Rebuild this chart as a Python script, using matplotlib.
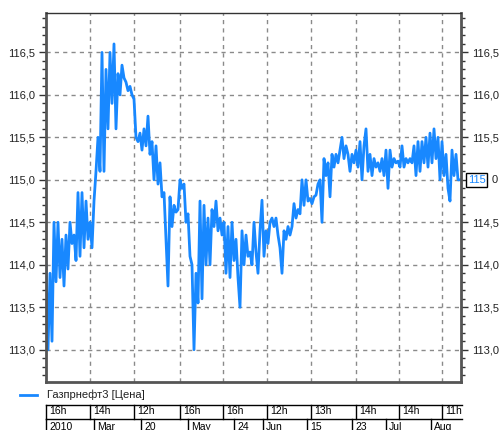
import matplotlib
matplotlib.use("Agg")
import matplotlib.pyplot as plt
from matplotlib.lines import Line2D
from matplotlib.ticker import MultipleLocator, FuncFormatter

# price trace, one sample every ~2 px of the reference
price = [
    114.00, 113.00, 113.90, 113.10, 114.50, 113.80, 114.50, 113.85, 114.30, 113.75,
    114.35, 113.95, 114.50, 114.25, 114.35, 114.05, 114.85, 114.10, 114.85, 114.20,
    114.75, 114.30, 114.50, 114.20, 114.75, 115.10, 115.50, 115.10, 116.50, 115.10,
    116.30, 115.60, 116.50, 115.90, 116.60, 115.60, 116.25, 116.00, 116.35, 116.20,
    116.15, 116.05, 116.10, 116.00, 115.95, 115.50, 115.45, 115.55, 115.35, 115.60,
    115.40, 115.75, 115.30, 115.45, 115.00, 115.40, 114.95, 115.20, 114.80, 114.85,
    114.30, 113.75, 114.80, 114.45, 114.70, 114.62, 114.65, 115.00, 114.90, 114.95,
    114.50, 114.60, 114.10, 114.00, 113.00, 113.90, 113.55, 114.75, 113.60, 114.70,
    114.00, 114.55, 114.00, 114.65, 114.45, 114.75, 114.40, 114.55, 114.35, 114.50,
    113.90, 114.45, 113.85, 114.50, 114.05, 114.30, 113.85, 113.50, 114.40, 114.00,
    114.35, 114.10, 114.15, 114.00, 114.50,
    114.15, 113.90, 114.40, 114.76, 114.10, 114.40, 114.25, 114.50, 114.55, 114.45,
    114.55, 114.35, 114.20, 113.90, 114.40, 114.30, 114.45, 114.35, 114.45, 114.72,
    114.55, 114.65, 114.60, 115.00, 114.70, 115.00, 114.75, 114.78, 114.72, 114.80,
    114.82, 114.95, 115.00, 114.50, 115.25, 115.05, 115.20, 114.80, 115.30, 115.15,
    115.30, 115.20, 115.35, 115.50, 115.25, 115.40, 115.30, 115.10, 115.30, 115.20,
    115.35, 115.15, 115.45, 115.00, 115.40, 115.60, 115.10, 115.30, 115.05, 115.25,
    115.15, 115.20, 115.10, 115.25, 115.05, 115.35, 114.90, 115.35, 115.15, 115.25,
    115.20, 115.22, 115.15, 115.40, 115.15, 115.25, 115.20, 115.25, 115.20, 115.40,
    115.05, 115.45, 115.10, 115.45, 115.20, 115.50, 115.15, 115.55, 115.20, 115.60,
    115.25, 115.50, 115.00, 115.45, 115.05, 115.30, 114.90, 114.75, 115.35, 115.05,
    115.30, 115.00, 115.00,
]
last_price = "115"

# time scale (sample index of each cell border) and labels
hour_edges = [0, 22, 44, 67, 88.5, 110.5, 132.5, 155, 176.5, 198]
hour_labels = ["16h", "14h", "12h", "16h", "16h", "12h", "13h", "14h", "14h", "11h"]
date_edges = [0, 24, 47.5, 71, 94, 108.5, 130.5, 153, 170, 192.5]
date_labels = ["2010", "Mar", "20", "May", "24", "Jun", "15", "23", "Jul", "Aug"]

legend_label = "Газпрнефт3 [Цена]"

W, H = 499, 430
blue = "#1888ff"
plt.rcParams["font.family"] = ["Liberation Sans", "DejaVu Sans"]
plt.rcParams["font.size"] = 8

fig = plt.figure(figsize=(W / 100, H / 100), dpi=100)
ax = fig.add_axes([46 / W, (H - 382) / H, (461 - 46) / W, (382 - 12.5) / H])

x = list(range(len(price)))
ax.plot(x, price, color=blue, lw=2.0)
ax.set_xlim(0, 207.5)
ax.set_ylim(112.62, 116.97)

ax.yaxis.set_major_locator(MultipleLocator(0.5))
ax.yaxis.set_minor_locator(MultipleLocator(0.1))
ax.yaxis.set_major_formatter(FuncFormatter(lambda v, p: f"{v:.1f}".replace(".", ",")))
ax.tick_params(axis="y", which="both", left=True, right=True, labelleft=True,
               labelright=True, direction="out", colors="#333333", labelcolor="#222222",
               width=1, pad=3)
ax.tick_params(axis="y", which="major", length=5)
ax.tick_params(axis="y", which="minor", length=3)
ax.set_xticks(hour_edges[1:])
ax.tick_params(axis="x", length=0, labelbottom=False)
ax.grid(True, color="#8a8a8a", ls=(0, (3, 3)), lw=1)

for s in ["left", "right", "bottom"]:
    ax.spines[s].set_color("#555555")
    ax.spines[s].set_linewidth(2)
ax.spines["top"].set_color("#333333")
ax.spines["top"].set_linewidth(1)

# last price marker on the right scale: it hides the "115," of the tick label
fig.canvas.draw()
for t in ax.yaxis.get_major_ticks():
    if abs(t.get_loc() - 115.0) < 1e-6:
        t.label2.set_visible(False)
ax.text(1.017, 115.0, last_price, transform=ax.get_yaxis_transform(),
        color=blue, ha="left", va="center", fontsize=8,
        bbox=dict(boxstyle="square,pad=0.15", fc="white", ec="black", lw=1))
ax.text(1.075, 115.0, "0", transform=ax.get_yaxis_transform(),
        color="#222222", ha="left", va="center", fontsize=8)

# legend
fig.add_artist(Line2D([20 / W, 37 / W], [(H - 395) / H] * 2, color=blue, lw=2))
fig.text(47 / W, (H - 395) / H, legend_label, va="center", ha="left", fontsize=8,
         color="#222222")

# time scale table under the chart
tab = fig.add_axes([46 / W, 0, (461 - 46) / W, 26 / H])
tab.set_xlim(0, 207.5)
tab.set_ylim(0, 26)
tab.axis("off")
tab.plot([0, 208], [25.5, 25.5], color="black", lw=1, clip_on=False)
tab.plot([0, 208], [11.5, 11.5], color="black", lw=1, clip_on=False)
for e, lab in zip(hour_edges, hour_labels):
    tab.plot([e, e], [11.5, 25.5], color="black", lw=1, clip_on=False)
    tab.text(e + 1.5, 18.5, lab, ha="left", va="center", fontsize=7.5, clip_on=False)
for e, lab in zip(date_edges, date_labels):
    tab.plot([e, e], [0, 11.5], color="black", lw=1, clip_on=False)
    tab.text(e + 1.5, 3.5, lab, ha="left", va="center", fontsize=7.5, clip_on=False)

fig.savefig("out.png", dpi=100)
